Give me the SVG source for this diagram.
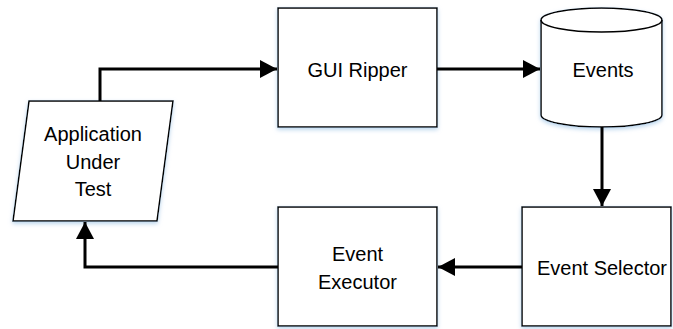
<svg xmlns="http://www.w3.org/2000/svg" width="673" height="329" viewBox="0 0 673 329">
  <defs>
    <style>
      .shape { fill: #ffffff; stroke: #000000; stroke-width: 1.5; filter: url(#sh); }
      .lbl { font-family: "Liberation Sans", Arial, sans-serif; font-size: 20px; fill: #000000; text-anchor: middle; }
      .conn { fill: none; stroke: #000000; stroke-width: 3; stroke-linejoin: miter; }
    </style>
    <filter id="sh" x="-10%" y="-10%" width="120%" height="130%">
      <feDropShadow dx="0" dy="2" stdDeviation="2" flood-color="#9cc3e6" flood-opacity="0.7"/>
    </filter>
    <marker id="arr" markerUnits="userSpaceOnUse" markerWidth="18" markerHeight="18" refX="17" refY="9" orient="auto">
      <path d="M0,0 L17,9 L0,18 Z" fill="#000000"/>
    </marker>
  </defs>
  <rect width="673" height="329" fill="#ffffff"/>

  <g id="app">
    <polygon class="shape" points="29,101 173,101 157,221 13,221"/>
    <text class="lbl" x="93" y="141">Application</text>
    <text class="lbl" x="93" y="168.5">Under</text>
    <text class="lbl" x="93" y="196">Test</text>
  </g>

  <g id="gui-ripper">
    <rect class="shape" x="278" y="8" width="159" height="119"/>
    <text class="lbl" x="357.5" y="76.5">GUI Ripper</text>
  </g>

  <g id="events">
    <path class="shape" d="M541,20 A60.5,12 0 0 1 662,20 L662,115 A60.5,12 0 0 1 541,115 Z"/>
    <path d="M541,20 A60.5,12 0 0 0 662,20" fill="none" stroke="#000000" stroke-width="1.5"/>
    <text class="lbl" x="603" y="76.5">Events</text>
  </g>

  <g id="event-selector">
    <rect class="shape" x="522" y="207" width="149" height="119"/>
    <text class="lbl" x="602" y="275">Event Selector</text>
  </g>

  <g id="event-executor">
    <rect class="shape" x="278" y="207" width="159" height="119"/>
    <text class="lbl" x="357.5" y="261">Event</text>
    <text class="lbl" x="357.5" y="289">Executor</text>
  </g>

  <g id="connectors">
    <path class="conn" d="M100,101 L100,69 L277,69" marker-end="url(#arr)"/>
    <path class="conn" d="M437,69 L540,69" marker-end="url(#arr)"/>
    <path class="conn" d="M602,127 L602,206" marker-end="url(#arr)"/>
    <path class="conn" d="M522,267 L438,267" marker-end="url(#arr)"/>
    <path class="conn" d="M278,267 L85,267 L85,222" marker-end="url(#arr)"/>
  </g>
</svg>
